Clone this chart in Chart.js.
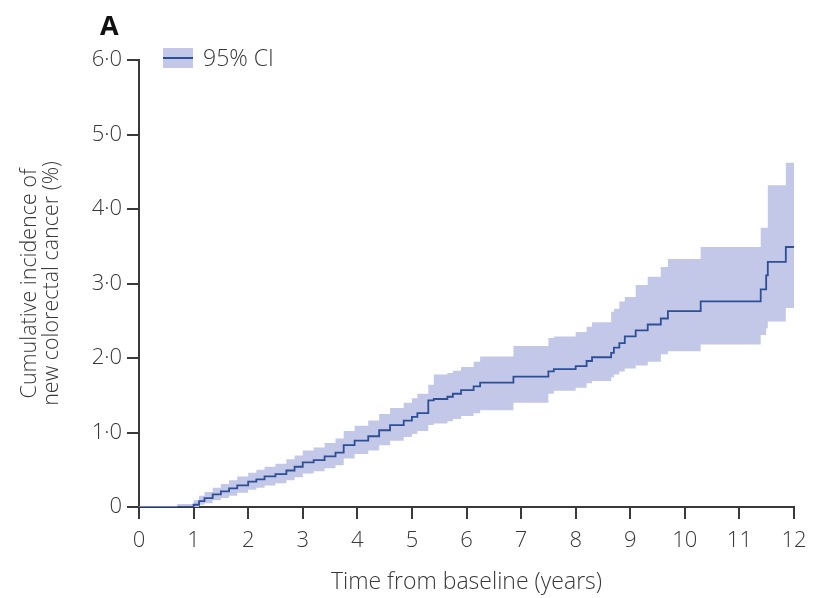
<!DOCTYPE html>
<html>
<head>
<meta charset="utf-8">
<script src="https://cdn.jsdelivr.net/npm/chart.js@4/dist/chart.umd.min.js"></script>
<style>
  html, body { margin: 0; padding: 0; background: #ffffff; }
  #wrap { width: 813px; height: 598px; position: relative; }
</style>
</head>
<body>
<div id="wrap"><canvas id="c" width="813" height="598"></canvas></div>
<script>
// Time from baseline (years) at which each step begins
const times = [0, 0.7, 1.0, 1.1, 1.2, 1.35, 1.5, 1.65, 1.8, 2.0, 2.15, 2.3, 2.5, 2.7, 2.85, 3.0, 3.2, 3.4, 3.6, 3.75, 3.95, 4.2, 4.4, 4.6, 4.85, 5.0, 5.1, 5.3, 5.4, 5.65, 5.75, 5.9, 6.13, 6.25, 6.86, 7.5, 7.6, 8.0, 8.2, 8.3, 8.65, 8.7, 8.8, 8.9, 9.1, 9.32, 9.56, 9.69, 10.29, 11.39, 11.49, 11.52, 11.85, 12.0];
// Cumulative incidence estimate (%)
const estimate = [0, 0, 0.03, 0.08, 0.12, 0.17, 0.21, 0.25, 0.29, 0.34, 0.37, 0.41, 0.44, 0.49, 0.54, 0.60, 0.63, 0.68, 0.73, 0.83, 0.89, 0.95, 1.03, 1.10, 1.16, 1.21, 1.26, 1.43, 1.45, 1.48, 1.52, 1.57, 1.62, 1.67, 1.75, 1.82, 1.85, 1.89, 1.96, 2.01, 2.07, 2.14, 2.20, 2.29, 2.37, 2.45, 2.53, 2.63, 2.76, 2.92, 3.11, 3.29, 3.49, 3.49];
// 95% CI lower bound (%)
const lowerCI = [0, 0, 0, 0.03, 0.05, 0.09, 0.12, 0.15, 0.19, 0.23, 0.26, 0.29, 0.32, 0.36, 0.40, 0.45, 0.48, 0.52, 0.56, 0.65, 0.71, 0.76, 0.83, 0.89, 0.94, 0.98, 1.02, 1.10, 1.12, 1.15, 1.18, 1.22, 1.26, 1.30, 1.40, 1.52, 1.56, 1.60, 1.66, 1.69, 1.74, 1.78, 1.82, 1.86, 1.90, 1.95, 2.05, 2.09, 2.18, 2.31, 2.40, 2.49, 2.67, 2.67];
// 95% CI upper bound (%)
const upperCI = [0, 0.04, 0.09, 0.15, 0.20, 0.26, 0.31, 0.36, 0.41, 0.46, 0.50, 0.54, 0.58, 0.64, 0.69, 0.76, 0.80, 0.86, 0.92, 1.02, 1.09, 1.16, 1.25, 1.33, 1.40, 1.46, 1.52, 1.64, 1.78, 1.80, 1.83, 1.88, 1.95, 2.02, 2.16, 2.27, 2.29, 2.35, 2.42, 2.48, 2.62, 2.66, 2.76, 2.82, 2.98, 3.09, 3.22, 3.33, 3.49, 3.75, 3.75, 4.32, 4.62, 4.62];
const xTicks = [0, 1, 2, 3, 4, 5, 6, 7, 8, 9, 10, 11, 12];
const yTickLabels = ['0', '1·0', '2·0', '3·0', '4·0', '5·0', '6·0'];
const panelLabel = 'A';
const legendLabel = '95% CI';
const xTitle = 'Time from baseline (years)';
const yTitle = ['Cumulative incidence of', 'new colorectal cancer (%)'];

const BAND = 'rgb(196,200,232)';
const LINE = '#2c4f96';
const LINE_ZERO = '#5a84d2';
const AXIS = '#3a3a3a';
const TEXT = '#383838';
const FONT = '"Open Sans", Lato, sans-serif';

const toXY = (ys) => times.map((t, i) => ({ x: t, y: ys[i] }));

const overlay = {
  id: 'overlay',
  afterDraw(chart) {
    const ctx = chart.ctx;
    ctx.save();
    // panel label
    ctx.fillStyle = '#111';
    ctx.font = 'bold 27px ' + FONT;
    ctx.textBaseline = 'alphabetic';
    ctx.textAlign = 'left';
    ctx.fillText(panelLabel, 100, 35);
    // legend
    ctx.fillStyle = BAND;
    ctx.fillRect(163, 48, 30, 20);
    ctx.strokeStyle = LINE;
    ctx.lineWidth = 2;
    ctx.beginPath();
    ctx.moveTo(163, 58);
    ctx.lineTo(193, 58);
    ctx.stroke();
    ctx.fillStyle = TEXT;
    ctx.font = '300 23px ' + FONT;
    ctx.textBaseline = 'middle';
    ctx.fillText(legendLabel, 203, 59);
    ctx.restore();
  }
};

new Chart(document.getElementById('c'), {
  type: 'line',
  data: {
    datasets: [
      { label: 'upper', data: toXY(upperCI), stepped: true, borderWidth: 0, borderColor: 'rgba(0,0,0,0)', backgroundColor: BAND, pointRadius: 0, fill: '+1', order: 2 },
      { label: 'lower', data: toXY(lowerCI), stepped: true, borderWidth: 0, borderColor: 'rgba(0,0,0,0)', pointRadius: 0, fill: false, order: 2 },
      { label: 'estimate', data: toXY(estimate), stepped: true, borderWidth: 1.8, borderColor: LINE, pointRadius: 0, fill: false, order: 0,
        segment: { borderColor: (c) => (c.p0.parsed.y === 0 && c.p1.parsed.y === 0) ? LINE_ZERO : undefined } }
    ]
  },
  options: {
    responsive: false,
    animation: false,
    devicePixelRatio: 1,
    layout: { padding: { left: 0, right: 19, top: 60, bottom: 0 } },
    plugins: { legend: { display: false }, tooltip: { enabled: false } },
    scales: {
      x: {
        type: 'linear', min: 0, max: 12,
        afterFit: (s) => { s.height = 91; s.paddingLeft = 0; s.paddingRight = 0; },
        afterBuildTicks: (s) => { s.ticks = xTicks.map(v => ({ value: v })); },
        ticks: { color: TEXT, font: { family: FONT, size: 22, weight: '300' }, padding: 9, maxRotation: 0, callback: (v) => String(v) },
        grid: { drawOnChartArea: false, drawTicks: true, tickLength: 12, color: AXIS, lineWidth: 2 },
        border: { display: true, color: AXIS, width: 2 },
        title: { display: true, text: xTitle, color: TEXT, font: { family: FONT, size: 23, weight: '300', lineHeight: 1.1 }, padding: { top: 0, bottom: 3 } }
      },
      y: {
        type: 'linear', min: 0, max: 6,
        afterFit: (s) => { s.width = 139; s.paddingTop = 0; s.paddingBottom = 0; },
        afterBuildTicks: (s) => { s.ticks = yTickLabels.map((_, i) => ({ value: i })); },
        ticks: { color: TEXT, font: { family: FONT, size: 22, weight: '300' }, padding: 5, callback: (v) => yTickLabels[v] },
        grid: { drawOnChartArea: false, drawTicks: true, tickLength: 12, color: AXIS, lineWidth: 2 },
        border: { display: true, color: AXIS, width: 2 },
        title: { display: true, text: yTitle, color: TEXT, font: { family: FONT, size: 21.5, weight: '300', lineHeight: 1.05 }, padding: { top: 18.5, bottom: 0 } }
      }
    }
  },
  plugins: [overlay]
});
</script>
</body>
</html>
